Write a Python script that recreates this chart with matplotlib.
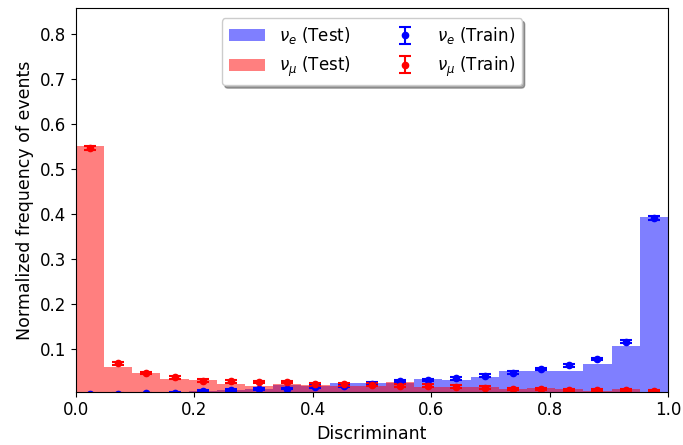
import matplotlib.pyplot as plt
import numpy as np

# 21 bins over the discriminant range [0, 1]
edges = np.linspace(0.0, 1.0, 22)
centers = 0.5 * (edges[:-1] + edges[1:])

# test samples (filled histograms)
nue_test = [0.001, 0.001, 0.003, 0.005, 0.008, 0.010, 0.011, 0.021, 0.018, 0.026, 0.026,
            0.024, 0.034, 0.032, 0.039, 0.051, 0.0525, 0.0525, 0.0667, 0.108, 0.394]
numu_test = [0.550, 0.061, 0.048, 0.033, 0.031, 0.022, 0.019, 0.022, 0.020, 0.019, 0.019,
             0.027, 0.017, 0.017, 0.016, 0.012, 0.013, 0.012, 0.007, 0.011, 0.002]

# training samples (points with errors)
nue_train = [0.0005, 0.0008, 0.002, 0.004, 0.008, 0.0097, 0.011, 0.0127, 0.017, 0.0186, 0.0237,
             0.0297, 0.032, 0.0356, 0.041, 0.048, 0.056, 0.064, 0.078, 0.117, 0.391]
numu_train = [0.546, 0.069, 0.047, 0.038, 0.030, 0.029, 0.027, 0.027, 0.0225, 0.022, 0.021,
              0.019, 0.019, 0.017, 0.015, 0.012, 0.0115, 0.010, 0.0095, 0.0095, 0.007]
nue_err = [0.001, 0.001, 0.001, 0.002, 0.002, 0.002, 0.002, 0.002, 0.003, 0.003, 0.003,
           0.003, 0.003, 0.003, 0.003, 0.003, 0.003, 0.003, 0.003, 0.004, 0.005]
numu_err = [0.005, 0.003, 0.003, 0.003, 0.003, 0.003, 0.003, 0.003, 0.003, 0.003, 0.003,
            0.003, 0.003, 0.003, 0.003, 0.003, 0.002, 0.002, 0.002, 0.002, 0.002]

fig = plt.figure(figsize=(6.83, 4.45), dpi=100)
ax = fig.add_axes([0.111, 0.12, 0.867, 0.861])

ax.hist(centers, bins=edges, weights=nue_test, color='blue', alpha=0.5,
        label=r'$\nu_e$ (Test)')
ax.hist(centers, bins=edges, weights=numu_test, color='red', alpha=0.5,
        label=r'$\nu_\mu$ (Test)')
ax.errorbar(centers, nue_train, yerr=nue_err, fmt='o', color='blue', markersize=4.5,
            capsize=4.5, elinewidth=1.5, capthick=1.5, label=r'$\nu_e$ (Train)')
ax.errorbar(centers, numu_train, yerr=numu_err, fmt='o', color='red', markersize=4.5,
            capsize=4.5, elinewidth=1.5, capthick=1.5, label=r'$\nu_\mu$ (Train)')

ax.set_xlim(0, 1)
ax.set_ylim(0.006, 0.856)
ax.set_xlabel('Discriminant', fontsize=12.5)
ax.set_ylabel('Normalized frequency of events', fontsize=12.5)
ax.tick_params(labelsize=12)

ax.legend(loc='upper center', ncol=2, shadow=True, fontsize=12, columnspacing=2.2,
          handlelength=2.2, borderaxespad=0.6)

plt.savefig('out.png', dpi=100)
plt.close()
